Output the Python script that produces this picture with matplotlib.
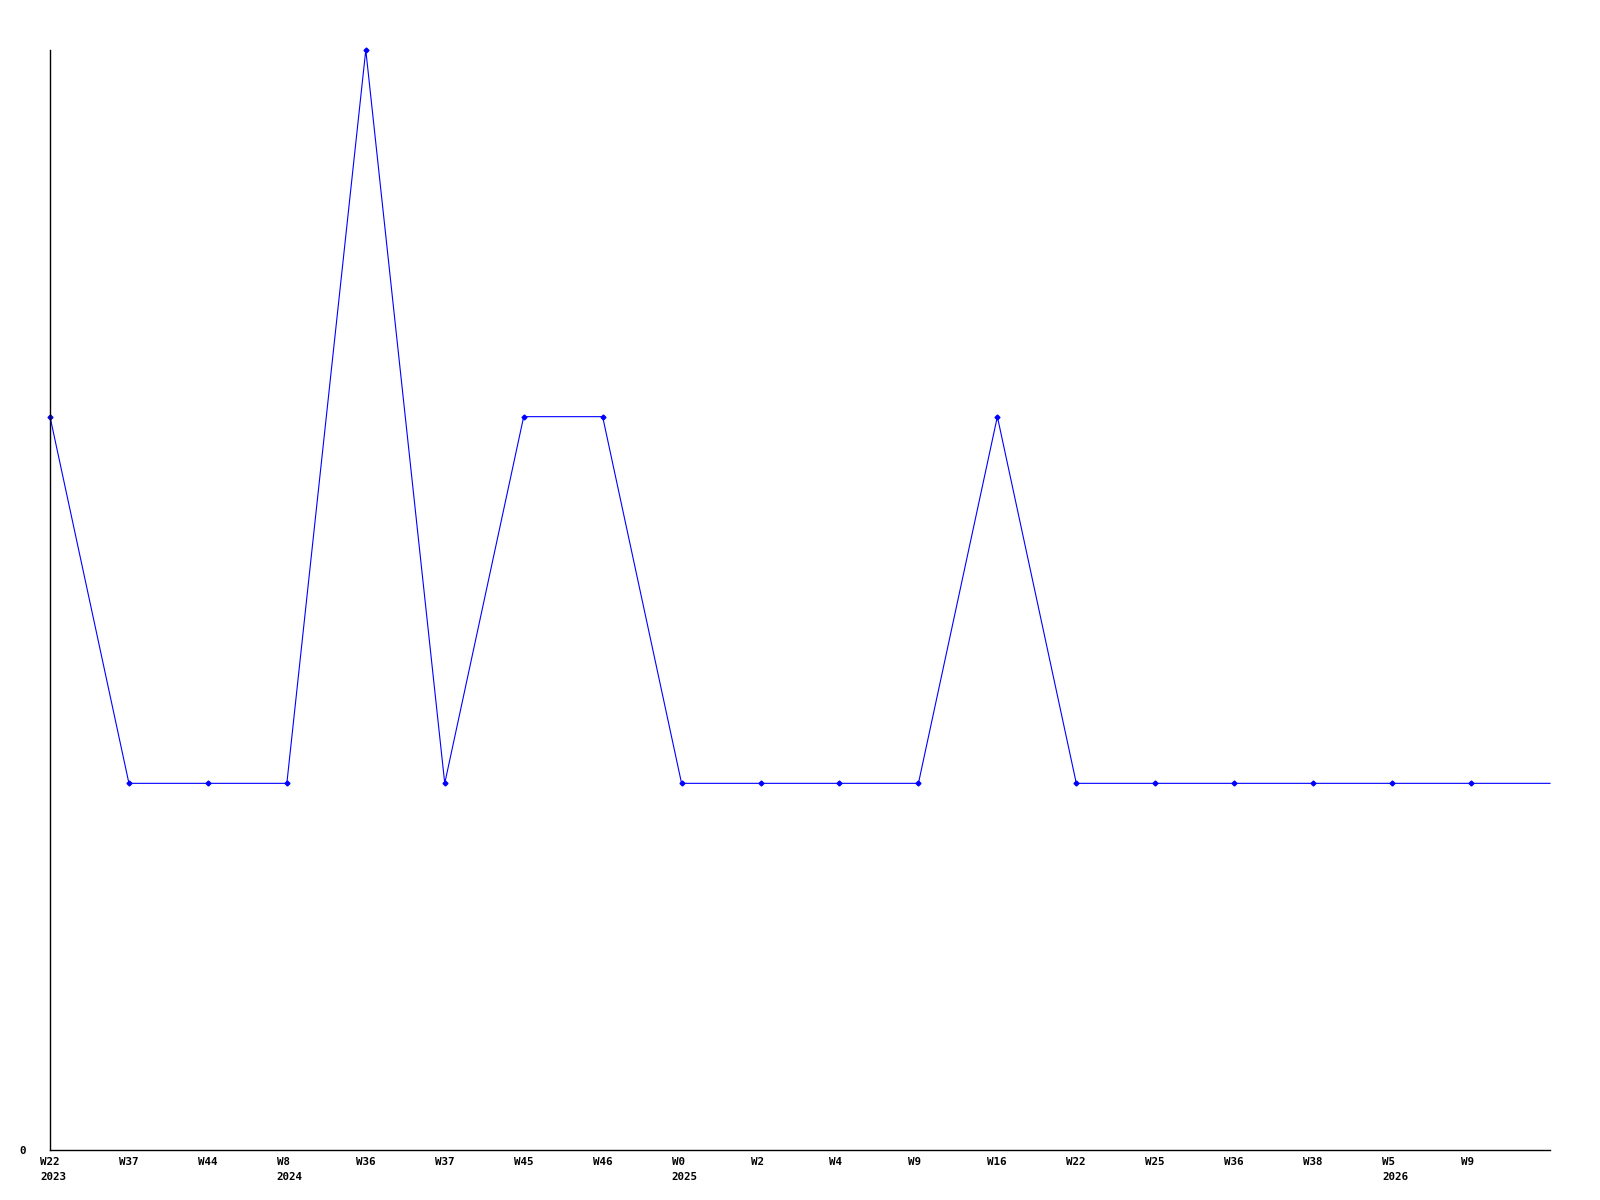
import matplotlib
matplotlib.use("Agg")
import matplotlib.pyplot as plt
import matplotlib.transforms as mtransforms

# weekly counts, last value has no marker (running week)
weeks = ["W22", "W37", "W44", "W8", "W36", "W37", "W45", "W46", "W0", "W2",
         "W4", "W9", "W16", "W22", "W25", "W36", "W38", "W5", "W9"]
years = ["2023", "", "", "2024", "", "", "", "", "2025", "", "", "", "", "", "",
         "", "", "2026", ""]
counts = [2, 1, 1, 1, 3, 1, 2, 2, 1, 1, 1, 1, 2, 1, 1, 1, 1, 1, 1]
last_count = 1

fig = plt.figure(figsize=(16, 12), dpi=100)
ax = fig.add_axes([50/1600, 1 - 1150/1200, 1500/1600, 1100/1200])

xs = list(range(len(counts)))
ax.plot(xs + [len(counts)], counts + [last_count], color="#0000ff", lw=0.8,
        clip_on=False)
ax.plot(xs, counts, ls="none", marker="D", ms=2.5, color="#0000ff", clip_on=False)

ax.set_xlim(0, len(counts))
ax.set_ylim(0, 3)
for s in ["top", "right"]:
    ax.spines[s].set_visible(False)
for s in ["left", "bottom"]:
    ax.spines[s].set_linewidth(1)
ax.set_xticks([])
ax.set_yticks([])

font = dict(family="DejaVu Sans Mono", weight="bold", size=7.8)
trans = ax.get_xaxis_transform()
for i, (w, y) in enumerate(zip(weeks, years)):
    off = mtransforms.offset_copy(trans, fig=fig, x=-10, y=-12, units="dots")
    ax.text(i, 0, w, transform=off, ha="left", va="center", **font)
    if y:
        off2 = mtransforms.offset_copy(trans, fig=fig, x=-10, y=-27, units="dots")
        ax.text(i, 0, y, transform=off2, ha="left", va="center", **font)

yoff = mtransforms.offset_copy(ax.get_yaxis_transform(), fig=fig, x=-24, y=-1, units="dots")
ax.text(0, 0, "0", transform=yoff, ha="right", va="center", **font)

fig.savefig("out.png", dpi=100, facecolor="white")
